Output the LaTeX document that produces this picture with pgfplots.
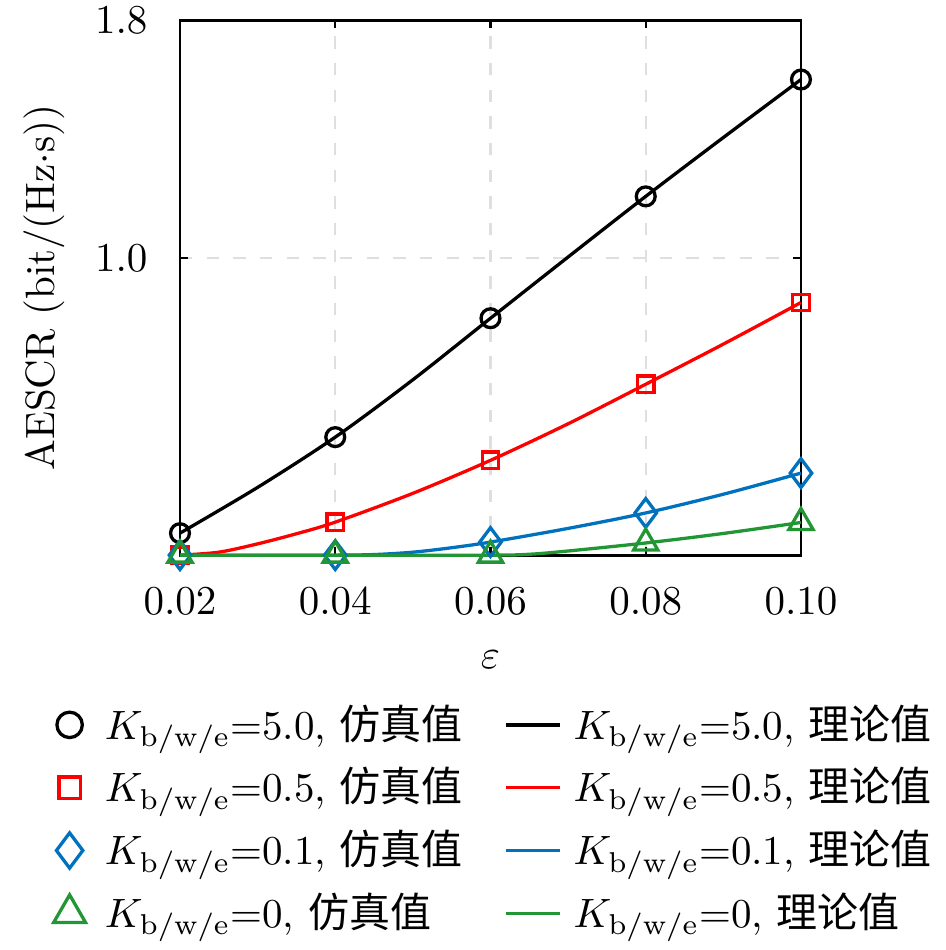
\documentclass[border=0pt]{standalone}
\usepackage{fontspec}
\newfontfamily\cjk{Noto Sans CJK SC}
\usepackage{pgfplots}
\pgfplotsset{compat=1.18}
\definecolor{mblue}{RGB}{0,114,189}
\definecolor{mgreen}{RGB}{34,150,52}
\pgfplotsset{
  mklegend/.style={legend image code/.code={\draw[##1] plot coordinates {(0cm,0cm)}; \path (6.2pt,0pt);}},
  lnlegend/.style={legend image code/.code={\draw[##1] (0cm,0cm) -- (0.47cm,0cm); \path (0.47cm+0.8pt,0pt);}},
}
\begin{document}
\begin{tikzpicture}
\useasboundingbox (-43.9pt,-96.3pt) rectangle (186.6pt,135.4pt);
\begin{axis}[
  at={(0pt,0pt)}, anchor=south west,
  scale only axis, width=151.46pt, height=130.5pt,
  xmin=0.02, xmax=0.10, ymin=0, ymax=1.8,
  xtick={0.02,0.04,0.06,0.08,0.10},
  ytick={1.0,1.8},
  scaled x ticks=false,
  xticklabel style={yshift=-4.4pt, /pgf/number format/fixed, /pgf/number format/fixed zerofill, /pgf/number format/precision=2},
  yticklabel style={xshift=-4.4pt, /pgf/number format/fixed, /pgf/number format/fixed zerofill, /pgf/number format/precision=1},
  grid=major,
  grid style={gray!25, line width=0.5pt, dash pattern=on 3pt off 3.5pt},
  axis line style={line width=0.7pt},
  major tick length=2pt,
  tick style={black, line width=0.6pt},
  xlabel={$\varepsilon$},
  xlabel style={at={(axis description cs:0.5,0)}, anchor=center, yshift=-25.4pt},
  ylabel={AESCR (bit/(Hz$\cdot$s))},
  ylabel style={at={(axis description cs:-0.2014,0.5)}, anchor=base},
  clip=false,
  legend columns=2,
  legend cell align=left,
  legend style={at={(axis description cs:0.51,-0.247)}, anchor=north, draw=none, fill=none,
    row sep=1.4pt,
    /tikz/every even column/.append style={column sep=8pt}},
]
% theory curves
\addplot[black, line width=0.8pt, smooth, forget plot] coordinates {
 (0.02,0.074) (0.03,0.228) (0.04,0.397) (0.05,0.590) (0.06,0.797) (0.07,1.003) (0.08,1.207) (0.09,1.405) (0.10,1.600)};
\addplot[red, line width=0.8pt, smooth, forget plot] coordinates {
 (0.02,0) (0.025,0.010) (0.03,0.038) (0.035,0.072) (0.04,0.111) (0.05,0.208) (0.06,0.319) (0.07,0.442) (0.08,0.575) (0.09,0.710) (0.10,0.850)};
\addplot[mblue, line width=0.8pt, smooth, forget plot] coordinates {
 (0.02,0) (0.03,0) (0.04,0) (0.045,0.002) (0.05,0.010) (0.055,0.025) (0.06,0.044) (0.07,0.090) (0.08,0.142) (0.09,0.205) (0.10,0.276)};
\addplot[mgreen, line width=0.8pt, smooth, forget plot] coordinates {
 (0.02,0) (0.04,0) (0.06,0) (0.065,0.003) (0.07,0.014) (0.08,0.041) (0.09,0.073) (0.10,0.110)};
% simulation markers
\addplot[black, only marks, mark=o, mark size=2.3pt, line width=0.8pt, forget plot] coordinates {
 (0.02,0.074) (0.04,0.397) (0.06,0.797) (0.08,1.207) (0.10,1.600)};
\addplot[red, only marks, mark=square, mark size=2.0pt, line width=0.8pt, forget plot] coordinates {
 (0.02,0) (0.04,0.111) (0.06,0.319) (0.08,0.575) (0.10,0.850)};
\addplot[mblue, only marks, mark=diamond, mark size=3.5pt, line width=0.8pt, forget plot] coordinates {
 (0.02,0) (0.04,0) (0.06,0.044) (0.08,0.142) (0.10,0.276)};
\addplot[mgreen, only marks, mark=triangle, mark size=3.4pt, line width=0.8pt, forget plot] coordinates {
 (0.02,0) (0.04,0) (0.06,0) (0.08,0.041) (0.10,0.110)};
% legend
\addlegendimage{black, only marks, mark=o, mark size=3.1pt, line width=0.8pt, mklegend}
\addlegendentry{$K_{\mathrm{b/w/e}}$=5.0, {\cjk 仿真值}}
\addlegendimage{black, line width=0.8pt, lnlegend}
\addlegendentry{$K_{\mathrm{b/w/e}}$=5.0, {\cjk 理论值}}
\addlegendimage{red, only marks, mark=square, mark size=2.6pt, line width=0.8pt, mklegend}
\addlegendentry{$K_{\mathrm{b/w/e}}$=0.5, {\cjk 仿真值}}
\addlegendimage{red, line width=0.8pt, lnlegend}
\addlegendentry{$K_{\mathrm{b/w/e}}$=0.5, {\cjk 理论值}}
\addlegendimage{mblue, only marks, mark=diamond, mark size=4.3pt, line width=0.8pt, mklegend}
\addlegendentry{$K_{\mathrm{b/w/e}}$=0.1, {\cjk 仿真值}}
\addlegendimage{mblue, line width=0.8pt, lnlegend}
\addlegendentry{$K_{\mathrm{b/w/e}}$=0.1, {\cjk 理论值}}
\addlegendimage{mgreen, only marks, mark=triangle, mark size=4.5pt, line width=0.8pt, mklegend}
\addlegendentry{$K_{\mathrm{b/w/e}}$=0, {\cjk 仿真值}}
\addlegendimage{mgreen, line width=0.8pt, lnlegend}
\addlegendentry{$K_{\mathrm{b/w/e}}$=0, {\cjk 理论值}}
\end{axis}
\end{tikzpicture}
\end{document}
